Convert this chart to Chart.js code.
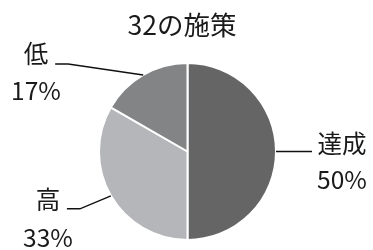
<!DOCTYPE html>
<html>
<head>
<meta charset="utf-8">
<script src="https://cdn.jsdelivr.net/npm/chart.js@4"></script>
<style>
    html, body { margin: 0; padding: 0; background: #fff; }
    #wrap { width: 373px; height: 250px; }
</style>
</head>
<body>
<div id="wrap"><canvas id="pieChart" width="373" height="250"></canvas></div>
<script>
const chartTitle = "32の施策";
const categories = ["達成", "高", "低"];
const percentValues = [50, 33.3, 16.7];
const percentLabels = ["50%", "33%", "17%"];

const labelFont = '24.5px "Noto Sans CJK JP", "Noto Sans", sans-serif';

// leader line / label layout for each slice
const calloutLayout = [
    { elbowDx: 36, elbowDy: 0, endDx: 0, textX: 342, nameY: 144, pctY: 180 },
    { elbowDx: -31, elbowDy: 13, endDx: -13, textX: 48, nameY: 200, pctY: 238 },
    { elbowDx: -75, elbowDy: -11, endDx: -13, textX: 36, nameY: 54, pctY: 91 }
];

const calloutPlugin = {
    id: 'callouts',
    afterDraw(chart) {
        const ctx = chart.ctx;
        ctx.save();
        // title
        ctx.fillStyle = '#1a1a1a';
        ctx.font = '26.5px "Noto Sans CJK JP", "Noto Sans", sans-serif';
        ctx.textAlign = 'center';
        ctx.textBaseline = 'middle';
        ctx.fillText(chartTitle, 182, 25);

        const arcs = chart.getDatasetMeta(0).data;
        arcs.forEach((arc, i) => {
            const mid = (arc.startAngle + arc.endAngle) / 2;
            const sx = arc.x + Math.cos(mid) * arc.outerRadius;
            const sy = arc.y + Math.sin(mid) * arc.outerRadius;
            const lay = calloutLayout[i];
            const ex = sx + lay.elbowDx;
            const ey = sy + lay.elbowDy;
            ctx.strokeStyle = '#111';
            ctx.lineWidth = 1.5;
            ctx.beginPath();
            ctx.moveTo(sx, sy);
            ctx.lineTo(ex, ey);
            ctx.lineTo(ex + lay.endDx, ey);
            ctx.stroke();

            ctx.fillStyle = '#1a1a1a';
            ctx.font = labelFont;
            ctx.fillText(categories[i], lay.textX, lay.nameY);
            ctx.fillText(percentLabels[i], lay.textX, lay.pctY);
        });
        ctx.restore();
    }
};

new Chart(document.getElementById('pieChart'), {
    type: 'pie',
    data: {
        labels: categories,
        datasets: [{
            data: percentValues,
            backgroundColor: ['#656565', '#b5b6b9', '#838486'],
            borderColor: '#ffffff',
            borderWidth: 2
        }]
    },
    options: {
        responsive: false,
        animation: false,
        layout: {
            padding: { top: 62, bottom: 9, left: 98, right: 96 }
        },
        plugins: {
            legend: { display: false },
            title: { display: false },
            tooltip: { enabled: false }
        }
    },
    plugins: [calloutPlugin]
});
</script>
</body>
</html>
